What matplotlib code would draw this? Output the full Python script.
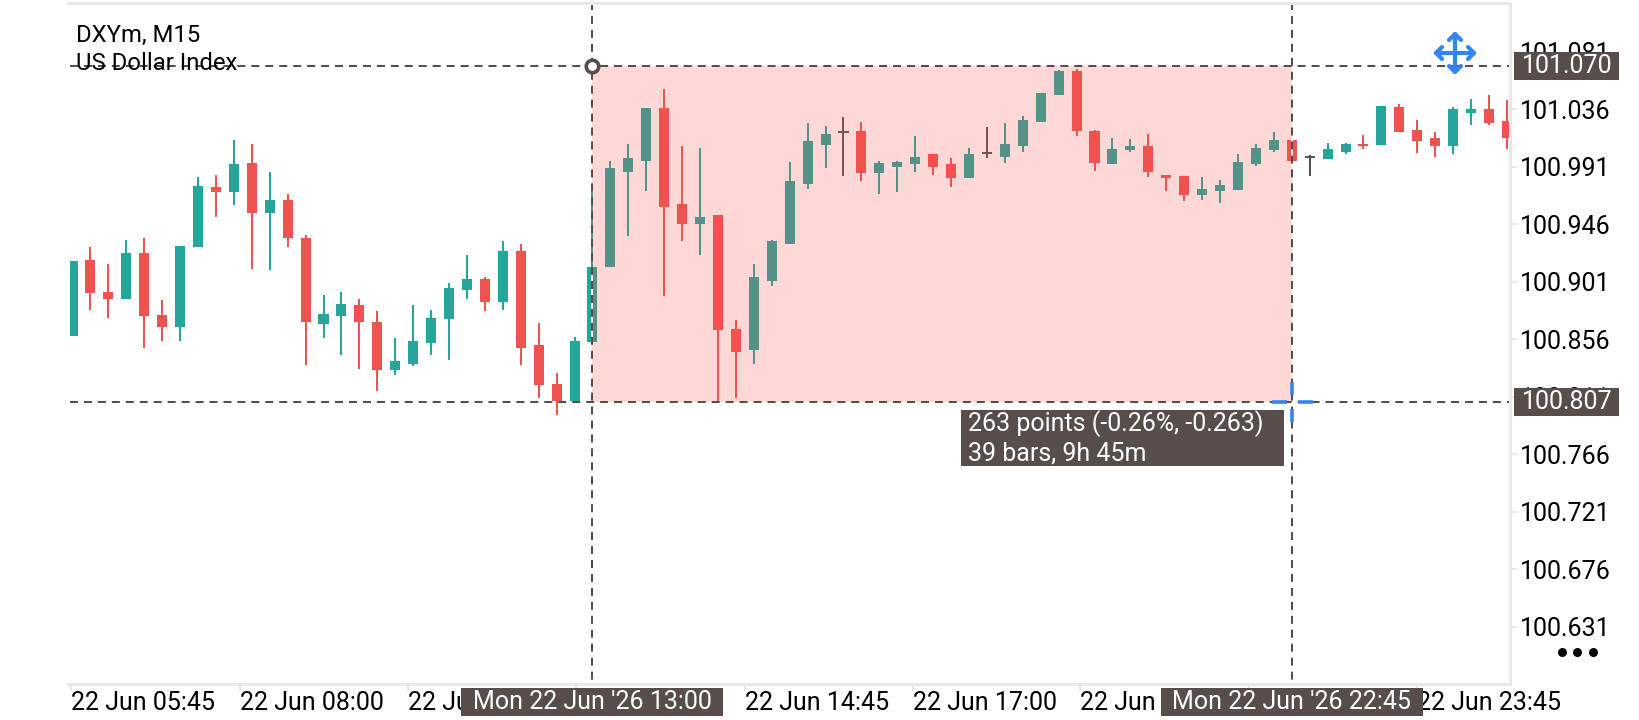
#!/usr/bin/env python3
"""DXYm M15 candlestick chart with a measurement overlay (mobile terminal look)."""

import matplotlib
matplotlib.use("Agg")
import matplotlib.pyplot as plt
import matplotlib.patches as patches
import numpy as np

plt.rcParams['font.family'] = ['Roboto', 'DejaVu Sans']

# Candle data, one value per bar
opens = [100.859, 100.918, 100.893, 100.888, 100.924, 100.875, 100.866, 100.928, 100.975, 100.971,
         100.994, 100.955, 100.965, 100.935, 100.868, 100.874, 100.883, 100.870, 100.832, 100.837,
         100.853, 100.872, 100.895, 100.903, 100.885, 100.925, 100.852, 100.821, 100.808, 100.854,
         100.913, 100.987, 100.996, 101.037, 100.962, 100.946, 100.953, 100.864, 100.848, 100.902,
         100.931, 100.978, 101.008, 101.018, 101.019, 100.986, 100.991, 100.993, 101.001, 100.993,
         100.982, 101.002, 100.999, 101.007, 101.026, 101.047, 101.066, 101.019, 100.993, 101.004,
         101.007, 100.985, 100.984, 100.969, 100.972, 100.973, 100.993, 101.004, 101.012, 100.999,
         100.997, 101.003, 101.009, 101.008, 101.038, 101.020, 101.014, 101.007, 101.033, 101.036,
         101.027]
highs = [100.917, 100.928, 100.915, 100.934, 100.935, 100.887, 100.929, 100.983, 100.985, 101.012,
         101.009, 100.987, 100.970, 100.938, 100.891, 100.893, 100.888, 100.878, 100.857, 100.883,
         100.879, 100.900, 100.922, 100.905, 100.933, 100.931, 100.869, 100.830, 100.858, 100.974,
         100.996, 101.009, 101.037, 101.052, 101.007, 101.006, 100.953, 100.871, 100.915, 100.934,
         100.995, 101.025, 101.023, 101.030, 101.026, 100.996, 100.996, 101.015, 101.001, 100.998,
         101.006, 101.022, 101.025, 101.031, 101.049, 101.067, 101.068, 101.020, 101.014, 101.013,
         101.017, 100.985, 100.984, 100.983, 100.981, 101.001, 101.009, 101.018, 101.012, 101.000,
         101.010, 101.010, 101.016, 101.039, 101.040, 101.028, 101.018, 101.038, 101.044, 101.047,
         101.043]
lows = [100.859, 100.879, 100.873, 100.888, 100.849, 100.855, 100.855, 100.928, 100.952, 100.961,
        100.911, 100.910, 100.928, 100.836, 100.857, 100.844, 100.833, 100.816, 100.828, 100.835,
        100.844, 100.840, 100.888, 100.878, 100.879, 100.836, 100.810, 100.797, 100.808, 100.854,
        100.913, 100.937, 100.972, 100.890, 100.933, 100.922, 100.808, 100.810, 100.837, 100.898,
        100.931, 100.974, 100.990, 100.984, 100.980, 100.970, 100.971, 100.987, 100.985, 100.975,
        100.982, 100.998, 100.994, 101.003, 101.026, 101.047, 101.015, 100.988, 100.993, 101.003,
        100.983, 100.972, 100.964, 100.965, 100.963, 100.973, 100.992, 101.003, 100.996, 100.984,
        100.997, 101.001, 101.005, 101.008, 101.018, 101.002, 100.999, 101.001, 101.024, 101.024,
        101.005]
closes = [100.917, 100.892, 100.888, 100.924, 100.874, 100.866, 100.929, 100.976, 100.971, 100.993,
          100.955, 100.965, 100.935, 100.870, 100.876, 100.884, 100.870, 100.832, 100.839, 100.855,
          100.873, 100.896, 100.903, 100.885, 100.925, 100.849, 100.820, 100.808, 100.855, 100.913,
          100.990, 100.998, 101.037, 100.960, 100.946, 100.952, 100.863, 100.846, 100.905, 100.933,
          100.980, 101.011, 101.017, 101.018, 100.986, 100.994, 100.995, 100.999, 100.991, 100.982,
          101.001, 101.002, 101.009, 101.028, 101.049, 101.066, 101.019, 100.994, 101.005, 101.007,
          100.987, 100.982, 100.969, 100.974, 100.977, 100.995, 101.006, 101.012, 100.996, 100.999,
          101.005, 101.009, 101.007, 101.039, 101.018, 101.011, 101.007, 101.036, 101.036, 101.025,
          101.014]

# Axis labels
price_ticks = [101.081, 101.036, 100.991, 100.946, 100.901, 100.856, 100.811,
               100.766, 100.721, 100.676, 100.631]
time_tick_bars = [-0.06, 9.33, 18.72, 28.1, 37.5, 46.9, 56.2, 65.6, 75.0]
time_tick_labels = ['22 Jun 05:45', '22 Jun 08:00', '22 Jun 10:15', '22 Jun 12:30', '22 Jun 14:45',
                    '22 Jun 17:00', '22 Jun 19:15', '22 Jun 21:30', '22 Jun 23:45']

# Measurement
start_bar = 29
end_bar = 68
upper_price = 101.070
lower_price = 100.807
start_label = "Mon 22 Jun '26 13:00"
end_label = "Mon 22 Jun '26 22:45"
measure_lines = ['263 points (-0.26%, -0.263)', '39 bars, 9h 45m']

GREEN = '#26a69a'
RED = '#ef5350'
DOJI = '#555555'
DARK = '#574e4b'
BORDER = '#e8e8e8'
BLUE = '#3584f6'

W, H = 1640, 720
PLOT_L, PLOT_R, PLOT_T, PLOT_B = 70, 1510, 2, 684
FONT = 18
DASH = (0, (4, 2.975))  # 8 px on, 6 px off at a 2 px line


def draw_candles(ax):
    x = np.arange(len(opens))
    o, h, l, c = map(np.array, (opens, highs, lows, closes))
    colors = np.where(c > o, GREEN, np.where(c < o, RED, DOJI))
    ax.vlines(x, l, h, colors=colors, linewidth=1.44, zorder=2)
    body = c != o
    ax.bar(x[body], np.abs(c - o)[body], bottom=np.minimum(o, c)[body], width=0.56,
           color=colors[body], linewidth=0, zorder=3)
    ax.hlines(c[~body], x[~body] - 0.28, x[~body] + 0.28, colors=colors[~body],
              linewidth=1.44, zorder=3)


def draw_measure(ax):
    rect = patches.Rectangle((start_bar, lower_price), end_bar - start_bar,
                             upper_price - lower_price, facecolor='#fb4f4c', alpha=0.22,
                             linewidth=0, zorder=5)
    ax.add_patch(rect)
    x0, x1 = ax.get_xlim()
    y0, y1 = ax.get_ylim()
    # candles under the vertical lines show white through the dash gaps
    for bar in (start_bar, end_bar):
        ax.vlines(bar, min(opens[bar], closes[bar]), max(opens[bar], closes[bar]),
                  colors='white', linewidth=1.44, zorder=6)
        ax.plot([bar, bar], [y1, y0], color=DARK, linewidth=1.44, linestyle=DASH, zorder=7)
    for price in (upper_price, lower_price):
        ax.plot([x0, x1], [price, price], color=DARK, linewidth=1.44, linestyle=DASH, zorder=7)
    ax.plot([start_bar], [upper_price], 'o', markersize=9, markerfacecolor='white',
            markeredgecolor=DARK, markeredgewidth=2.6, zorder=8, clip_on=False)


def draw_move_icon(px, cx, cy):
    reach, head = 19, 6
    style = dict(color=BLUE, linewidth=3, solid_capstyle='round', solid_joinstyle='round')
    px.plot([cx - reach, cx + reach], [cy, cy], **style)
    px.plot([cx, cx], [cy - reach, cy + reach], **style)
    for sx, sy in ((1, 0), (-1, 0), (0, 1), (0, -1)):
        tip = (cx + sx * reach, cy + sy * reach)
        if sx:
            px.plot([tip[0] - sx * head, tip[0], tip[0] - sx * head],
                    [tip[1] - head, tip[1], tip[1] + head], **style)
        else:
            px.plot([tip[0] - head, tip[0], tip[0] + head],
                    [tip[1] - sy * head, tip[1], tip[1] - sy * head], **style)


def draw_chrome(px):
    px.plot([68, 1510, 1510], [2.5, 2.5, 684], color=BORDER, linewidth=2.2)
    px.plot([68, 1510], [684, 684], color=BORDER, linewidth=2.2)

    px.text(76, 35, 'DXYm, M15', fontsize=17.2, va='center', color='black')
    px.text(76, 64, 'US Dollar Index', fontsize=17.2, va='center', color='black')

    # price tags on the right
    for y0, y1, value in ((52, 80, upper_price), (388, 416, lower_price)):
        px.add_patch(patches.Rectangle((1514, y0), 105, y1 - y0, facecolor=DARK, linewidth=0))
        px.text(1522, (y0 + y1) / 2, f'{value:.3f}', color='white', fontsize=FONT,
                va='center')

    # time tags at the bottom
    for x0, x1, label in ((461, 723, start_label), (1161, 1423, end_label)):
        px.add_patch(patches.Rectangle((x0, 688), x1 - x0, 28, facecolor=DARK, linewidth=0))
        px.text((x0 + x1) / 2, 702, label, color='white', fontsize=FONT, ha='center',
                va='center')

    # measurement readout
    px.add_patch(patches.Rectangle((961, 410), 323, 56, facecolor=DARK, linewidth=0))
    px.text(968, 424, measure_lines[0], color='white', fontsize=FONT, va='center')
    px.text(968, 453, measure_lines[1], color='white', fontsize=FONT, va='center')

    # crosshair at the cursor
    for xs, ys in (([1272, 1287], [402, 402]), ([1298, 1313], [402, 402]),
                   ([1292, 1292], [382, 395]), ([1292, 1292], [409, 422])):
        px.plot(xs, ys, color=BLUE, linewidth=2.6, solid_capstyle='butt')

    draw_move_icon(px, 1455, 53)
    px.scatter([1562, 1577, 1593], [652, 652, 652], s=42, color='black', linewidth=0)


def main():
    fig = plt.figure(figsize=(W / 100, H / 100), dpi=100, facecolor='white')
    ax = fig.add_axes([PLOT_L / W, 1 - PLOT_B / H, (PLOT_R - PLOT_L) / W, (PLOT_B - PLOT_T) / H])

    pitch = 17.93
    ax.set_xlim((PLOT_L - 72.5) / pitch, (PLOT_R - 72.5) / pitch)
    per_px = (upper_price - lower_price) / 336
    ax.set_ylim(lower_price - 282 * per_px, upper_price + 64 * per_px)

    for spine in ax.spines.values():
        spine.set_visible(False)
    ax.yaxis.tick_right()
    ax.set_yticks(price_ticks)
    ax.set_yticklabels([f'{p:.3f}' for p in price_ticks], fontsize=FONT, color='black')
    ax.set_xticks(time_tick_bars)
    ax.set_xticklabels(time_tick_labels, fontsize=FONT, color='black', ha='left')
    ax.tick_params(axis='y', length=5, width=1.4, color=BORDER, pad=2)
    ax.tick_params(axis='x', length=5, width=1.4, color=BORDER, pad=0)

    draw_candles(ax)
    draw_measure(ax)

    # pixel-space layer for the terminal's tags and icons
    px = fig.add_axes([0, 0, 1, 1], facecolor='none', zorder=10)
    px.set_xlim(0, W)
    px.set_ylim(H, 0)
    px.axis('off')
    draw_chrome(px)

    fig.savefig('out.png', dpi=100)


if __name__ == '__main__':
    main()
